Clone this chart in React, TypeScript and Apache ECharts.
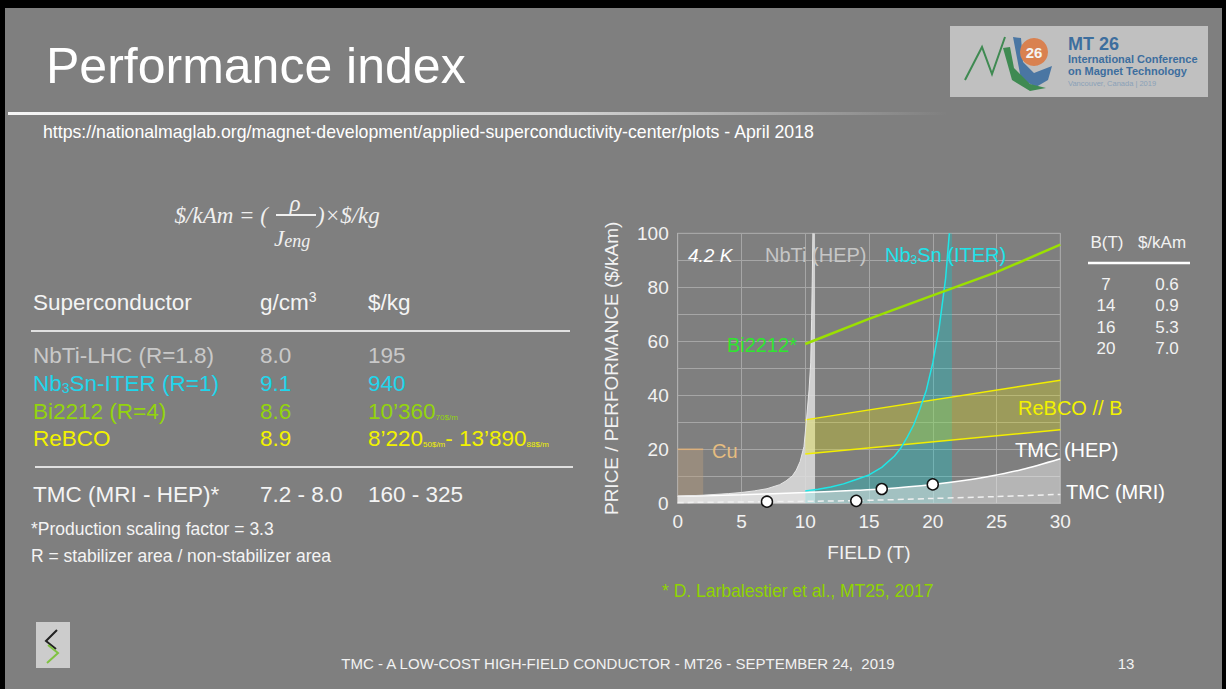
import React, { useEffect, useRef } from 'react';
import * as echarts from 'echarts';

// ---------- chart data ----------
const NBTI_CURVE: [number, number][] = [
  [0, 2.6], [2, 3.0], [4, 3.6], [5, 4.0], [6, 4.6], [7, 5.4], [8, 6.9], [8.5, 8.3],
  [9, 10.2], [9.3, 12.3], [9.6, 15.5], [9.9, 21], [10.1, 31], [10.3, 42], [10.43, 52],
  [10.5, 68], [10.55, 82], [10.6, 100],
];
const NBTI_EDGE = 10.77;
const NB3SN_CURVE: [number, number][] = [
  [10, 4.6], [11, 5.2], [12, 6], [13, 7.2], [14, 8.8], [15, 10.5], [16, 13.3], [17, 17.5],
  [17.5, 20.5], [18, 24.5], [18.5, 29], [19, 35], [19.5, 42], [20, 52], [20.5, 65],
  [21, 83], [21.3, 100],
];
const NB3SN_EDGE = 21.5;
const BI2212_CURVE: [number, number][] = [[10, 59], [15, 68.3], [20, 77], [25, 85.6], [30, 95.8]];
const REBCO_B = [10, 30];
const REBCO_LOW = [18.3, 27.2];
const REBCO_HIGH = [30.9, 45.6];
const CU_B = [0, 2];
const CU_PRICE = 20;
const TMC_HEP_CURVE: [number, number][] = [
  [0, 2.6], [5, 3.2], [10, 4.0], [14, 4.8], [16, 5.3], [20, 7.0], [23, 8.8], [25, 10.5],
  [27, 12.5], [30, 16.5],
];
const TMC_MRI_CURVE: [number, number][] = [[0, 0.3], [7, 0.6], [14, 1.0], [20, 1.8], [25, 2.5], [30, 3.3]];
const TMC_POINT_B = [7, 14, 16, 20];
const TMC_POINT_PRICE = [0.6, 0.9, 5.3, 7.0];

// ---------- table data ----------
const SC_NAMES = ['NbTi-LHC (R=1.8)', '{a|Nb}{sub|3}{a|Sn-ITER (R=1)}', 'Bi2212 (R=4)', 'ReBCO'];
const SC_DENSITY = ['8.0', '9.1', '8.6', '8.9'];
const SC_PRICE = ['195', '940', '{a|10’360}{s|70$/m}', '{a|8’220}{s|50$/m}{a|- 13’890}{s|88$/m}'];
const SC_COLORS = ['#c9c9c9', '#1fd6ec', '#93d40c', '#f2f200'];

const FONT = '"Liberation Sans", Arial, Helvetica, sans-serif';
const SERIF = '"Liberation Serif", "DejaVu Serif", serif';
const BG = '#7f7f7f';

function txt(x: number, y: number, text: string, size: number, fill: string, extra: any = {}) {
  return {
    type: 'text', x, y, silent: true, z: 100,
    style: { text, fill, fontSize: size, fontFamily: FONT, align: 'left', verticalAlign: 'middle', ...extra },
  };
}

function richFor(size: number, color: string) {
  return {
    a: { fontSize: size, fill: color, fontFamily: FONT },
    sub: { fontSize: Math.round(size * 0.62), fill: color, fontFamily: FONT, padding: [Math.round(size * 0.45), 0, 0, 0] },
    sup: { fontSize: Math.round(size * 0.62), fill: color, fontFamily: FONT, padding: [0, 0, Math.round(size * 0.45), 0] },
    s: { fontSize: 8, fill: color, fontFamily: FONT, padding: [13, 0, 0, 0] },
  };
}

export default function App() {
  const ref = useRef<HTMLDivElement>(null);
  useEffect(() => {
    if (!ref.current) return;
    const chart = echarts.init(ref.current, undefined, { renderer: 'svg' });
    const lineBase = { type: 'line', symbol: 'none', silent: true, animation: false };

    const TS = 22.5;
    const tableRows: any[] = [];
    const rowY = [355, 383, 411, 438];
    SC_NAMES.forEach((n, i) => {
      const c = SC_COLORS[i];
      tableRows.push(txt(33, rowY[i], n, TS, c, { rich: richFor(TS, c) }));
      tableRows.push(txt(260, rowY[i], SC_DENSITY[i], TS, c));
      tableRows.push(txt(368, rowY[i], SC_PRICE[i], TS, c, { rich: richFor(TS, c) }));
    });

    const rightRows: any[] = [];
    const rRowY = [284, 305, 327, 348];
    TMC_POINT_B.forEach((b, i) => {
      rightRows.push(txt(1106, rRowY[i], String(b), 17, '#f2f2f2', { align: 'center' }));
      rightRows.push(txt(1167, rRowY[i], TMC_POINT_PRICE[i].toFixed(1), 17, '#f2f2f2', { align: 'center' }));
    });

    const option: any = {
      animation: false,
      backgroundColor: '#000',
      grid: {
        left: 677.7, right: 165.7, top: 233.3, bottom: 185.7,
        show: true, borderColor: '#a8a8a8', borderWidth: 1, backgroundColor: 'transparent',
      },
      xAxis: {
        type: 'value', min: 0, max: 30, interval: 5,
        name: 'FIELD (T)', nameLocation: 'middle', nameGap: 40,
        nameTextStyle: { color: '#f2f2f2', fontSize: 19, fontFamily: FONT },
        axisLabel: { color: '#f2f2f2', fontSize: 19, fontFamily: FONT, margin: 9 },
        axisLine: { show: true, lineStyle: { color: '#b0b0b0' } },
        axisTick: { show: false },
        splitLine: { show: true, lineStyle: { color: '#a6a6a6', width: 1 } },
      },
      yAxis: {
        type: 'value', min: 0, max: 100, interval: 20,
        name: 'PRICE / PERFORMANCE ($/kAm)', nameLocation: 'middle', nameGap: 57,
        nameTextStyle: { color: '#f2f2f2', fontSize: 19, fontFamily: FONT },
        axisLabel: { color: '#f2f2f2', fontSize: 19, fontFamily: FONT, margin: 9 },
        axisLine: { show: true, lineStyle: { color: '#b0b0b0' } },
        axisTick: { show: false },
        splitLine: { show: true, lineStyle: { color: '#a6a6a6', width: 1 } },
        minorTick: { show: false, splitNumber: 2 },
        minorSplitLine: { show: true, lineStyle: { color: '#a6a6a6', width: 1 } },
      },
      series: [
        { ...lineBase, z: 2, data: [[CU_B[0], CU_PRICE], [CU_B[1], CU_PRICE], [CU_B[1], 0]], lineStyle: { width: 0 }, areaStyle: { color: 'rgba(190,160,125,0.4)', opacity: 1 } },
        { ...lineBase, z: 2, data: CU_B.map((b) => [b, CU_PRICE]), lineStyle: { color: '#dcb07c', width: 1.5 } },
        { ...lineBase, z: 2, data: [...NBTI_CURVE, [NBTI_EDGE, 100], [NBTI_EDGE, 0]], lineStyle: { width: 0 }, areaStyle: { color: 'rgba(222,222,222,0.85)', opacity: 1 } },
        { ...lineBase, z: 2, data: [[NB3SN_CURVE[0][0], 0], ...NB3SN_CURVE, [NB3SN_EDGE, 100], [NB3SN_EDGE, 0]], lineStyle: { width: 0 }, areaStyle: { color: 'rgba(0,205,210,0.3)', opacity: 1 } },
        {
          type: 'custom', silent: true, animation: false, clip: true, z: 3,
          data: [[REBCO_B[0], REBCO_LOW[0]]],
          renderItem: (_params: any, api: any) => {
            const low = REBCO_B.map((b, i) => api.coord([b, REBCO_LOW[i]]));
            const high = REBCO_B.map((b, i) => api.coord([b, REBCO_HIGH[i]]));
            return {
              type: 'group',
              children: [
                { type: 'polygon', shape: { points: [...low, ...high.slice().reverse()] }, style: { fill: 'rgba(235,230,0,0.28)' } },
                { type: 'polyline', shape: { points: low }, style: { stroke: '#f2ee00', lineWidth: 1.5, fill: 'none' } },
                { type: 'polyline', shape: { points: high }, style: { stroke: '#f2ee00', lineWidth: 1.5, fill: 'none' } },
              ],
            };
          },
        },
        { ...lineBase, z: 3, smooth: 0.3, data: TMC_HEP_CURVE, lineStyle: { color: '#ffffff', width: 1.5 }, areaStyle: { color: 'rgba(235,235,235,0.5)', opacity: 1 } },
        { ...lineBase, z: 4, smooth: 0.3, data: TMC_MRI_CURVE, lineStyle: { color: '#f0f0f0', width: 1.5, type: [6, 4] } },
        { ...lineBase, z: 4, data: NBTI_CURVE, lineStyle: { color: '#e6e6e6', width: 1 } },
        { ...lineBase, z: 4, data: NB3SN_CURVE, lineStyle: { color: '#1fe6e6', width: 1.5 } },
        { ...lineBase, z: 4, data: BI2212_CURVE, lineStyle: { color: '#9be000', width: 2.5 } },
        {
          type: 'scatter', silent: true, animation: false, z: 10,
          data: TMC_POINT_B.map((b, i) => [b, TMC_POINT_PRICE[i]]),
          symbolSize: 11,
          itemStyle: { color: '#ffffff', borderColor: '#111', borderWidth: 1.5, opacity: 1 },
        },
      ],
      graphic: [
        // slide background
        { type: 'rect', z: -10, silent: true, shape: { x: 5, y: 8, width: 1217, height: 681 }, style: { fill: BG } },
        // title + rule
        txt(46, 66, 'Performance index', 50, '#ffffff'),
        {
          type: 'rect', z: 1, silent: true, shape: { x: 8, y: 112, width: 940, height: 3 },
          style: {
            fill: new echarts.graphic.LinearGradient(0, 0, 1, 0, [
              { offset: 0, color: '#f6f6f6' }, { offset: 0.6, color: '#d2d2d2' }, { offset: 1, color: BG },
            ]),
          },
        },
        txt(43, 132, 'https://nationalmaglab.org/magnet-development/applied-superconductivity-center/plots - April 2018', 17.7, '#ffffff'),
        // MT26 logo
        { type: 'rect', z: 1, silent: true, shape: { x: 950, y: 26, width: 258, height: 71 }, style: { fill: '#c0c0c0' } },
        { type: 'polyline', z: 2, silent: true, shape: { points: [[965, 80], [982, 47], [992, 74], [1005, 37]] }, style: { stroke: '#3f8a52', lineWidth: 2, fill: 'none' } },
        { type: 'polygon', z: 2, silent: true, shape: { points: [[1013, 37], [1021, 38], [1023, 62], [1034, 73], [1052, 66], [1048, 80], [1036, 87], [1021, 79]] }, style: { fill: '#4a76a3' } },
        { type: 'polygon', z: 3, silent: true, shape: { points: [[1003, 48], [1010, 47], [1014, 68], [1030, 84], [1046, 88], [1030, 91], [1012, 80]] }, style: { fill: '#3f8a52' } },
        { type: 'circle', z: 4, silent: true, shape: { cx: 1034, cy: 52, r: 14 }, style: { fill: '#d98150' } },
        txt(1034, 52, '26', 15, '#f4f4f4', { align: 'center', fontWeight: 'bold' }),
        txt(1068, 44, 'MT 26', 18, '#3d6e9e', { fontWeight: 'bold' }),
        txt(1068, 59, 'International Conference', 11, '#3d6e9e', { fontWeight: 'bold' }),
        txt(1068, 71, 'on Magnet Technology', 11, '#3d6e9e', { fontWeight: 'bold' }),
        txt(1068, 83, 'Vancouver, Canada | 2019', 7.5, '#8aa0b8'),
        // formula
        txt(268, 215, '$/kAm = (', 23, '#f0f0f0', { align: 'right', fontFamily: SERIF, fontStyle: 'italic' }),
        { type: 'line', z: 100, silent: true, shape: { x1: 276, y1: 215, x2: 316, y2: 215 }, style: { stroke: '#f0f0f0', lineWidth: 1.8 } },
        txt(295, 203, 'ρ', 23, '#f0f0f0', { align: 'center', fontFamily: SERIF, fontStyle: 'italic' }),
        txt(274, 238, '{j|J}{e|eng}', 23, '#f0f0f0', {
          fontFamily: SERIF, fontStyle: 'italic',
          rich: {
            j: { fontSize: 23, fontFamily: SERIF, fontStyle: 'italic', fill: '#f0f0f0' },
            e: { fontSize: 18, fontFamily: SERIF, fontStyle: 'italic', fill: '#f0f0f0', padding: [6, 0, 0, 0] },
          },
        }),
        txt(317, 215, ')×$/kg', 23, '#f0f0f0', { fontFamily: SERIF, fontStyle: 'italic' }),
        // left table
        txt(33, 302, 'Superconductor', TS, '#f4f4f4'),
        txt(260, 302, '{a|g/cm}{sup|3}', TS, '#f4f4f4', { rich: richFor(TS, '#f4f4f4') }),
        txt(368, 302, '$/kg', TS, '#f4f4f4'),
        { type: 'line', z: 100, silent: true, shape: { x1: 31, y1: 331, x2: 570, y2: 331 }, style: { stroke: '#e0e0e0', lineWidth: 2 } },
        ...tableRows,
        { type: 'line', z: 100, silent: true, shape: { x1: 35, y1: 467, x2: 573, y2: 467 }, style: { stroke: '#e0e0e0', lineWidth: 2 } },
        txt(33, 494, 'TMC (MRI - HEP)*', TS, '#f4f4f4'),
        txt(260, 494, '7.2 - 8.0', TS, '#f4f4f4'),
        txt(368, 494, '160 - 325', TS, '#f4f4f4'),
        txt(31, 529, '*Production scaling factor = 3.3', 17.5, '#f4f4f4'),
        txt(31, 556, 'R = stabilizer area / non-stabilizer area', 17.5, '#f4f4f4'),
        // chart annotations
        txt(688, 255, '4.2 K', 19, '#ffffff', { fontStyle: 'italic' }),
        txt(765, 255, 'NbTi (HEP)', 20, '#c6c6c6'),
        txt(885, 255, '{a|Nb}{sub|3}{a|Sn (ITER)}', 20, '#1fe3ea', { rich: richFor(20, '#1fe3ea') }),
        txt(797, 345, 'Bi2212*', 20, '#2ee62e', { align: 'right' }),
        txt(712, 451, 'Cu', 20, '#e6bd80'),
        txt(1018, 408, 'ReBCO // B', 20, '#f2f200'),
        txt(1015, 450, 'TMC (HEP)', 20, '#ffffff'),
        txt(1066, 492, 'TMC (MRI)', 20, '#ffffff'),
        // right table
        txt(1107, 242, 'B(T)', 17, '#f2f2f2', { align: 'center' }),
        txt(1162, 242, '$/kAm', 17, '#f2f2f2', { align: 'center' }),
        { type: 'line', z: 100, silent: true, shape: { x1: 1088, y1: 263, x2: 1190, y2: 263 }, style: { stroke: '#ffffff', lineWidth: 2.5 } },
        ...rightRows,
        // citation + footer
        txt(662, 591, '* D. Larbalestier et al., MT25, 2017', 17.5, '#8fd400'),
        txt(618, 663, 'TMC - A LOW-COST HIGH-FIELD CONDUCTOR - MT26 - SEPTEMBER 24,  2019', 15, '#f2f2f2', { align: 'center' }),
        txt(1126, 663, '13', 15, '#f2f2f2', { align: 'center' }),
        // bottom-left logo
        { type: 'rect', z: 1, silent: true, shape: { x: 36, y: 622, width: 34, height: 46 }, style: { fill: '#cccccc' } },
        { type: 'polyline', z: 2, silent: true, shape: { points: [[57, 630], [46, 641], [56, 649]] }, style: { stroke: '#222', lineWidth: 2, fill: 'none' } },
        { type: 'polyline', z: 2, silent: true, shape: { points: [[48, 645], [58, 653], [47, 663]] }, style: { stroke: '#7fc241', lineWidth: 2, fill: 'none' } },
      ],
    };
    chart.setOption(option);
    return () => chart.dispose();
  }, []);
  return <div ref={ref} style={{ position: 'fixed', left: 0, top: 0, width: 1226, height: 689 }} />;
}
